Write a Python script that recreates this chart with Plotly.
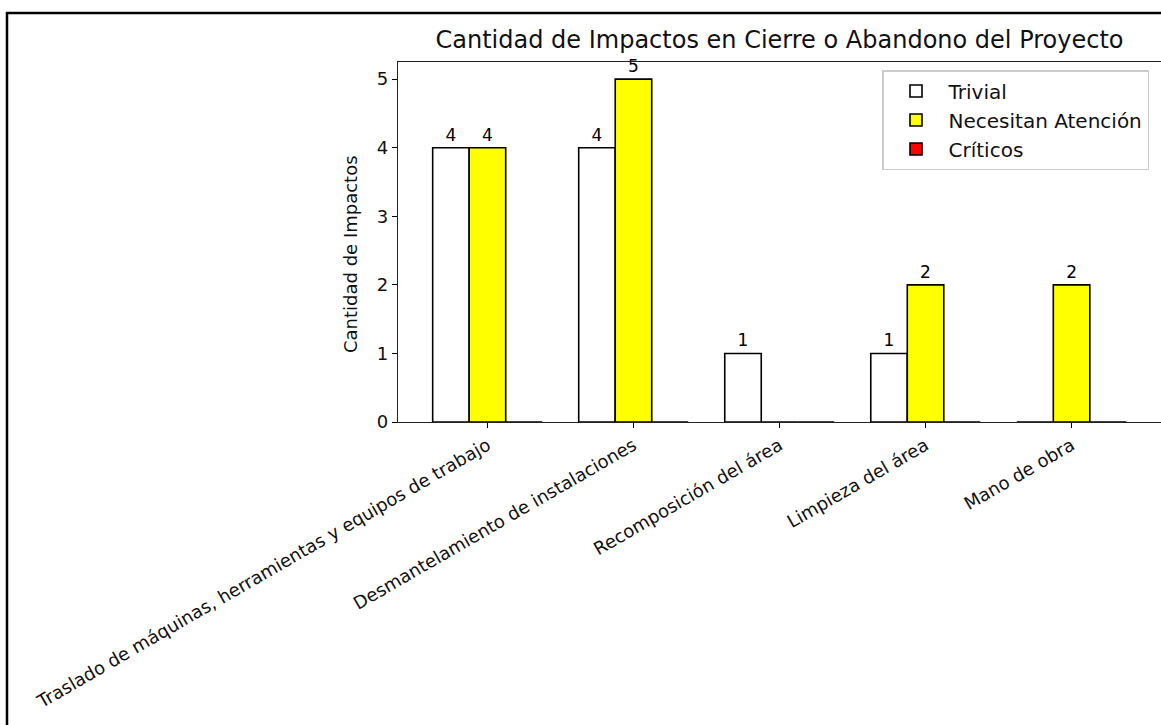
import plotly.graph_objects as go

categories = [
    "Traslado de máquinas, herramientas y equipos de trabajo",
    "Desmantelamiento de instalaciones",
    "Recomposición del área",
    "Limpieza del área",
    "Mano de obra",
]
trivial = [4, 4, 1, 1, 0]
atencion = [4, 5, 0, 2, 2]
criticos = [0, 0, 0, 0, 0]
series_names = ["Trivial", "Necesitan Atención", "Críticos"]
series_colors = ["#FFFFFF", "#FFFF00", "#FF0000"]
y_ticks = [0, 1, 2, 3, 4, 5]

W, H = 1161, 725
L, R, T, B = 398, 0, 62, 303
PW, PH = W - L - R, H - T - B

def px_x(p):
    return (p - L) / PW

def px_y(p):
    return (H - B - p) / PH

FONT = "DejaVu Sans"
fig = go.Figure()
x_idx = list(range(len(categories)))
for name, vals, col in zip(series_names, [trivial, atencion, criticos], series_colors):
    fig.add_trace(go.Bar(
        x=x_idx, y=vals, name=name, legendgroup=name,
        marker=dict(color=col, line=dict(color="#000000", width=1.6)),
        text=[str(v) if v else "" for v in vals],
        textposition="outside",
        textfont=dict(family=FONT, size=17, color="#000000"),
        cliponaxis=False,
    ))

fig.update_layout(
    width=W, height=H,
    margin=dict(l=L, r=R, t=T, b=B, autoexpand=False),
    paper_bgcolor="white", plot_bgcolor="white",
    barmode="group", bargap=0.25, bargroupgap=0,
    font=dict(family=FONT, size=18, color="#000000"),
    title=dict(text="Cantidad de Impactos en Cierre o Abandono del Proyecto",
               xref="paper", x=0.5, xanchor="center",
               yref="container", y=1 - 40 / H, yanchor="middle",
               font=dict(family=FONT, size=24, color="#111111")),
    legend=dict(x=px_x(882), y=px_y(70), xanchor="left", yanchor="top",
                bordercolor="#CCCCCC", borderwidth=1.5, bgcolor="white",
                font=dict(family=FONT, size=20, color="#111111"),
                itemwidth=55, tracegroupgap=3, traceorder="normal"),
    annotations=[dict(text="Cantidad de Impactos", textangle=-90,
                      xref="paper", yref="paper", x=px_x(350), y=px_y(254),
                      xanchor="center", yanchor="middle", showarrow=False,
                      font=dict(family=FONT, size=18, color="#111111"))],
)
fig.update_xaxes(
    range=[-0.6125, 4.6125], tickmode="array", tickvals=x_idx, ticktext=categories,
    tickangle=-30, ticks="outside", ticklen=5, tickcolor="#000000",
    showline=True, linecolor="#222222", linewidth=1.4, mirror=True,
    showgrid=False, zeroline=False, automargin=False,
    tickfont=dict(family=FONT, size=18, color="#111111"),
)
fig.update_yaxes(
    range=[0, 5.25], tickmode="array", tickvals=y_ticks,
    ticks="outside", ticklen=5, tickcolor="#000000",
    showline=True, linecolor="#222222", linewidth=1.4, mirror=True,
    showgrid=False, zeroline=False, automargin=False,
    tickfont=dict(family=FONT, size=18, color="#111111"),
)
# outer frame
fig.add_shape(type="rect", xref="paper", yref="paper",
              x0=px_x(7), x1=px_x(1175), y0=px_y(740), y1=px_y(13),
              line=dict(color="#000000", width=2.5), fillcolor="rgba(0,0,0,0)", layer="above")

fig.write_html("out.html", config={"displayModeBar": False},
               post_script="document.body.style.margin='0';document.body.style.overflow='hidden';")
